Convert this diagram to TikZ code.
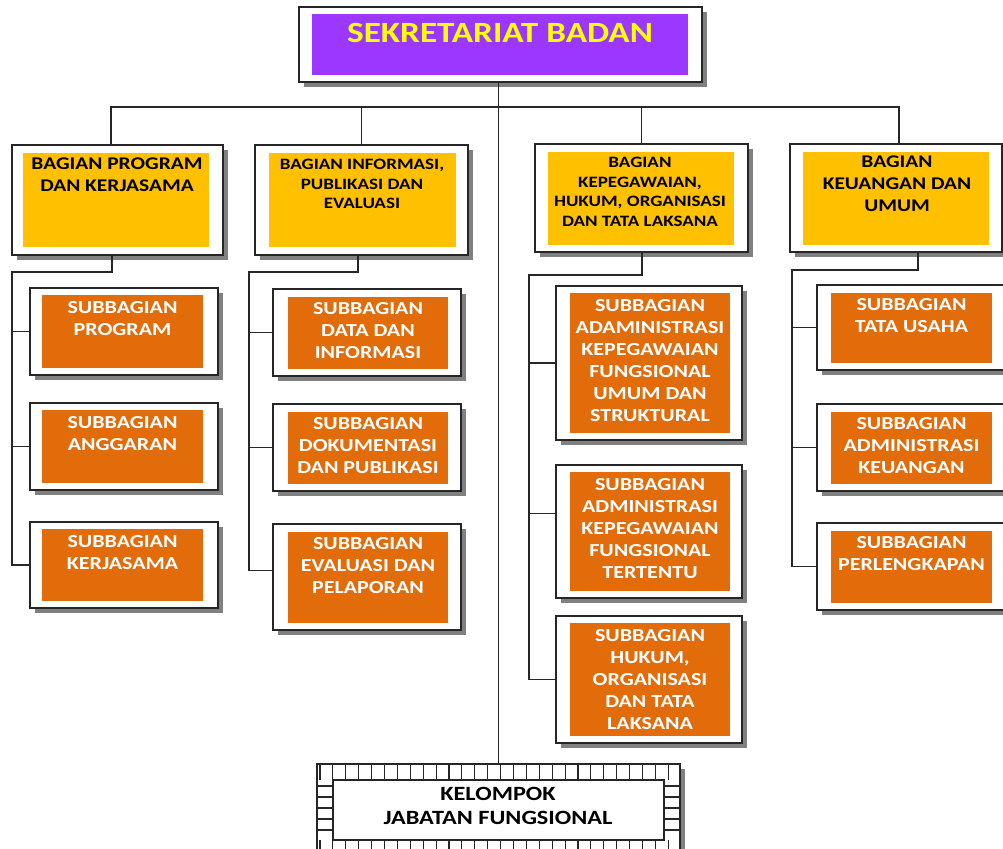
\documentclass[tikz,border=0pt]{standalone}
\usepackage{fontspec}
\newfontfamily\orgfont{Carlito}[FakeStretch=1.2]
\usetikzlibrary{fit,shadows}

\definecolor{sekpurple}{RGB}{155,55,255}
\definecolor{baggold}{RGB}{255,192,0}
\definecolor{suborange}{RGB}{227,108,10}
\definecolor{sekyellow}{RGB}{255,255,0}

\tikzset{
  outbox/.style={draw=black!85, line width=1.2pt, fill=white, inner sep=0pt,
    drop shadow={shadow xshift=3.75pt, shadow yshift=-3.75pt, fill=black!50, opacity=1}},
  inbox/.style={inner sep=0pt, fill=#1},
  link/.style={draw=black!85, line width=1pt},
  subtext/.style={font=\orgfont\bfseries\fontsize{13.75}{16.5}\selectfont,
    text=white, align=center, anchor=north, inner sep=0pt},
  bagtext/.style={font=\orgfont\bfseries\fontsize{13.4}{16.5}\selectfont,
    text=black, align=center, anchor=north, inner sep=0pt},
  bagsmall/.style={bagtext, font=\orgfont\bfseries\fontsize{11.9}{14.7}\selectfont},
}

\begin{document}
\begin{tikzpicture}[x=0.75pt, y=-0.75pt]
  \useasboundingbox (0,0) rectangle (1003,849);
  \clip (0,0) rectangle (1003,849);

  % Sekretariat
  \node[outbox, fit={(299,7) (702,82)}] (sek) {};
  \node[inbox=sekpurple, fit={(312,14) (688,75)}] (sek-in) {};
  \node[font=\orgfont\bfseries\fontsize{22}{26}\selectfont, text=sekyellow, inner sep=0pt]
    (sek-t) at (500,33) {SEKRETARIAT BADAN};

  % Bagian
  \node[outbox, fit={(12,145) (223,255)}] (bpk) {};
  \node[inbox=baggold, fit={(23,153) (209,247)}] (bpk-in) {};
  \node[bagtext] (bpk-t) at (117,158) {BAGIAN PROGRAM\\DAN KERJASAMA};

  \node[outbox, fit={(255,145) (468,255)}] (bip) {};
  \node[inbox=baggold, fit={(269,153) (456,247)}] (bip-in) {};
  \node[bagsmall] (bip-t) at (362,159) {BAGIAN INFORMASI,\\PUBLIKASI DAN\\EVALUASI};

  \node[outbox, fit={(535,144) (748,252)}] (bkh) {};
  \node[inbox=baggold, fit={(548,152) (734,245)}] (bkh-in) {};
  \node[bagsmall] (bkh-t) at (640,157) {BAGIAN\\KEPEGAWAIAN,\\HUKUM, ORGANISASI\\DAN TATA LAKSANA};

  \node[outbox, fit={(790,144) (1002,252)}] (bku) {};
  \node[inbox=baggold, fit={(803,152) (989,245)}] (bku-in) {};
  \node[bagtext] (bku-t) at (897,156) {BAGIAN\\KEUANGAN DAN\\UMUM};

  % Subbagian
  \foreach \nm/\ya/\yb/\txt in {pk1/288/375/{SUBBAGIAN\\PROGRAM},
      pk2/403/490/{SUBBAGIAN\\ANGGARAN}, pk3/522/608/{SUBBAGIAN\\KERJASAMA}} {
    \node[outbox, fit={(30,\ya) (218,\yb)}] (\nm) {};
    \node[inbox=suborange, fit={(42,\ya+7) (203,\yb-7)}] (\nm-in) {};
    \node[subtext] (\nm-t) at (122.5,\ya+13) {\txt};
  }

  \foreach \nm/\ya/\yb/\txt in {pi1/289/376/{SUBBAGIAN\\DATA DAN\\INFORMASI},
      pi2/404/491/{SUBBAGIAN\\DOKUMENTASI\\DAN PUBLIKASI},
      pi3/524/630/{SUBBAGIAN\\EVALUASI DAN\\PELAPORAN}} {
    \node[outbox, fit={(273,\ya) (461,\yb)}] (\nm) {};
    \node[inbox=suborange, fit={(288,\ya+8) (448,\yb-7)}] (\nm-in) {};
    \node[subtext] (\nm-t) at (368,\ya+13) {\txt};
  }

  \foreach \nm/\ya/\yb/\txt in {
      ph1/286/440/{SUBBAGIAN\\ADAMINISTRASI\\KEPEGAWAIAN\\FUNGSIONAL\\UMUM DAN\\STRUKTURAL},
      ph2/465/598/{SUBBAGIAN\\ADMINISTRASI\\KEPEGAWAIAN\\FUNGSIONAL\\TERTENTU},
      ph3/616/743/{SUBBAGIAN\\HUKUM,\\ORGANISASI\\DAN TATA\\LAKSANA}} {
    \node[outbox, fit={(556,\ya) (742,\yb)}] (\nm) {};
    \node[inbox=suborange, fit={(570,\ya+7) (730,\yb-7)}] (\nm-in) {};
    \node[subtext] (\nm-t) at (650,\ya+13) {\txt};
  }

  \foreach \nm/\ya/\yb/\txt in {pu1/285/370/{SUBBAGIAN\\TATA USAHA},
      pu2/404/491/{SUBBAGIAN\\ADMINISTRASI\\KEUANGAN},
      pu3/523/610/{SUBBAGIAN\\PERLENGKAPAN}} {
    \node[outbox, fit={(817,\ya) (1010,\yb)}] (\nm) {};
    \node[inbox=suborange, fit={(831,\ya+8) (992,\yb-7)}] (\nm-in) {};
    \node[subtext] (\nm-t) at (911.5,\ya+13) {\txt};
  }

  % Kelompok jabatan fungsional
  \node[outbox, line width=1.4pt, fit={(317,764) (680,856)}] (kjf) {};
  \draw[black!85, line width=0.8pt] (333,780) rectangle (664,840);
  \foreach \x in {320,332.9,...,680}
    \draw[black!85, line width=0.8pt] (\x,764) -- (\x,780) (\x,840) -- (\x,856);
  \foreach \y in {786,797,...,840}
    \draw[black!85, line width=0.8pt] (317,\y) -- (333,\y) (664,\y) -- (680,\y);
  \node[font=\orgfont\bfseries\fontsize{15.2}{18}\selectfont, align=center, anchor=north,
    inner sep=0pt] (kjf-t) at (498,786.5) {KELOMPOK\\JABATAN FUNGSIONAL};

  % Garis
  \coordinate (bar-l) at (111,107);
  \coordinate (bar-r) at (899,107);
  \draw[link] (sek.south -| kjf.north) -- (kjf.north);
  \draw[link] (bar-l |- bpk.north) -- (bar-l) -- (bar-r) -- (bar-r |- bku.north);
  \draw[link] (bip.north) -- (bip.north |- bar-l);
  \draw[link] (bkh.north) -- (bkh.north |- bar-l);

  \coordinate (d1) at (112,272);
  \coordinate (s1) at (12,272);
  \draw[link] (d1 |- bpk.south) -- (d1) -- (s1) -- (s1 |- pk3.west) -- (pk3.west);
  \draw[link] (s1 |- pk1.west) -- (pk1.west);
  \draw[link] (s1 |- pk2.west) -- (pk2.west);

  \coordinate (d2) at (358,272);
  \coordinate (s2) at (249,272);
  \coordinate (pi3-in) at ([yshift=5pt]pi3.west);
  \draw[link] (d2 |- bip.south) -- (d2) -- (s2) -- (s2 |- pi3-in) -- (pi3-in);
  \draw[link] (s2 |- pi1.west) -- (pi1.west);
  \draw[link] (s2 |- pi2.west) -- (pi2.west);

  \coordinate (d3) at (642,275);
  \coordinate (s3) at (529,275);
  \coordinate (ph2-in) at ([yshift=13.5pt]ph2.west);
  \draw[link] (d3 |- bkh.south) -- (d3) -- (s3) -- (s3 |- ph3.west) -- (ph3.west);
  \draw[link] (s3 |- ph1.west) -- (ph1.west);
  \draw[link] (s3 |- ph2-in) -- (ph2-in);

  \coordinate (d4) at (918,270);
  \coordinate (s4) at (792,270);
  \draw[link] (d4 |- bku.south) -- (d4) -- (s4) -- (s4 |- pu3.west) -- (pu3.west);
  \draw[link] (s4 |- pu1.west) -- (pu1.west);
  \draw[link] (s4 |- pu2.west) -- (pu2.west);
\end{tikzpicture}
\end{document}
